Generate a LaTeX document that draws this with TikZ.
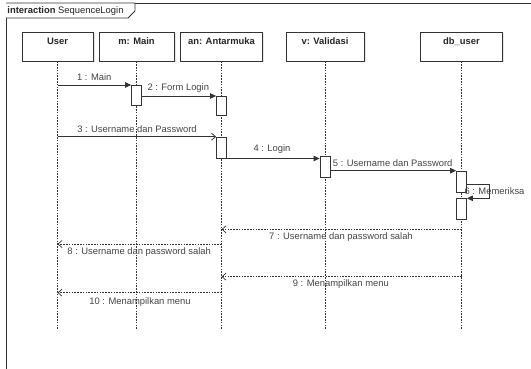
\documentclass[tikz,border=0pt]{standalone}
\usepackage{fontspec}
\setmainfont{Liberation Sans}
\usetikzlibrary{arrows.meta,calc,shadows}
\definecolor{ink}{HTML}{333333}
\definecolor{txt}{HTML}{444444}
\tikzset{
  every node/.style={font=\fontsize{9.4}{11}\selectfont, text=txt},
  head/.style={draw=ink, fill=white, line width=0.8pt, rectangle, minimum height=29pt,
    drop shadow={opacity=0.2, shadow xshift=1.5pt, shadow yshift=-1.5pt}},
  headtext/.style={anchor=center, yshift=-10pt, font=\fontsize{9.4}{11}\selectfont\bfseries, text=black!85},
  life/.style={draw=ink, line width=0.7pt, dash pattern=on 1.6pt off 1.2pt},
  act/.style={draw=ink, fill=white, line width=0.8pt, rectangle, minimum width=10pt, inner sep=0pt, anchor=north},
  syncmsg/.style={draw=ink, line width=0.8pt, -{Triangle[length=6pt,width=5.5pt]}},
  openmsg/.style={draw=ink, line width=0.8pt, -{Straight Barb[length=4pt,width=7pt]}},
  retmsg/.style={draw=ink, line width=0.7pt, dash pattern=on 1.6pt off 1.2pt, -{Straight Barb[length=4pt,width=7pt]}},
  msglabel/.style={inner sep=0pt, fill=none}
}
\begin{document}
\begin{tikzpicture}[x=1pt, y=-1pt]
\useasboundingbox (0,0) rectangle (531,369);
\clip (0,0) rectangle (531,369);

% interaction frame and its name tab
\draw[ink, line width=0.8pt] (6,380) -- (6,3) -- (540,3);
\draw[ink, line width=0.8pt, fill=white] (6,3) -- (135,3) -- (135,11) -- (128,18) -- (6,18);
\node[anchor=west, inner sep=0pt, text=black!85] (frametitle) at (7.3,11) {\textbf{interaction} SequenceLogin};

% lifeline heads
\node[head, minimum width=71pt, label={[headtext]north:User}] (u) at (57.5,46.5) {};
\node[head, minimum width=75pt, label={[headtext]north:m: Main}] (m) at (136.5,46.5) {};
\node[head, minimum width=82pt, label={[headtext]north:an: Antarmuka}] (a) at (221.5,46.5) {};
\node[head, minimum width=78pt, label={[headtext]north:v: Validasi}] (v) at (325,46.5) {};
\node[head, minimum width=82pt, label={[headtext]north:db\_user}] (d) at (461.5,46.5) {};

% lifeline ends
\coordinate (ue) at (u.south |- 0,329);
\coordinate (me) at (m.south |- 0,329);
\coordinate (ae) at (a.south |- 0,329);
\coordinate (ve) at (v.south |- 0,329);
\coordinate (de) at (d.south |- 0,329);
\draw[life] (u.south) -- (ue);
\draw[life] (m.south) -- (me);
\draw[life] (a.south) -- (ae);
\draw[life] (v.south) -- (ve);
\draw[life] (d.south) -- (de);

% activations
\node[act, minimum height=20pt] (am1) at (136.5,85) {};
\node[act, minimum height=19pt] (aa1) at (221.5,96) {};
\node[act, minimum height=21pt] (aa2) at (221.5,136.7) {};
\node[act, minimum height=21pt] (av1) at (325,156.3) {};
\node[act, minimum height=21pt] (ad1) at (461.5,170.7) {};
\node[act, minimum height=21pt] (ad2) at (461.5,198) {};

% messages
\draw[syncmsg] (u |- am1.north west) -- (am1.north west);
\node[msglabel] (l1) at (94.3,77.5) {1 : Main};

\draw[syncmsg] (am1.east |- aa1.north west) -- (aa1.north west);
\node[msglabel] (l2) at (178.3,88.3) {2 : Form Login};

\draw[openmsg] (u |- aa2.north west) -- (aa2.north west);
\node[msglabel] (l3) at (137,129.5) {3 : Username dan Password};

\draw[syncmsg] (aa2.south east) -- (av1.north west |- aa2.south east);
\node[msglabel] (l4) at (272,149.5) {4 : Login};

\draw[syncmsg] (av1.east |- ad1.north west) -- (ad1.north west);
\node[msglabel] (l5) at (392.7,163.3) {5 : Username dan Password};

\draw[syncmsg] ($(ad1.north east)+(0,13.5)$) -- ++(22,0) |- ($(ad2.north east)+(0,0.3)$);
\node[msglabel] (l6) at (494.5,190.8) {6 : Memeriksa};

\draw[retmsg] (d |- 0,229.3) -- (a |- 0,229.3);
\node[msglabel] (l7) at (341,237.3) {7 : Username dan password salah};

\draw[retmsg] (a |- 0,244) -- (u |- 0,244);
\node[msglabel] (l8) at (139.2,251.7) {8 : Username dan password salah};

\draw[retmsg] (d |- 0,276.7) -- (a |- 0,276.7);
\node[msglabel] (l9) at (340.8,284) {9 : Menampilkan menu};

\draw[retmsg] (a |- 0,292.7) -- (u |- 0,292.7);
\node[msglabel] (l10) at (140,301.7) {10 : Menampilkan menu};
\end{tikzpicture}
\end{document}
